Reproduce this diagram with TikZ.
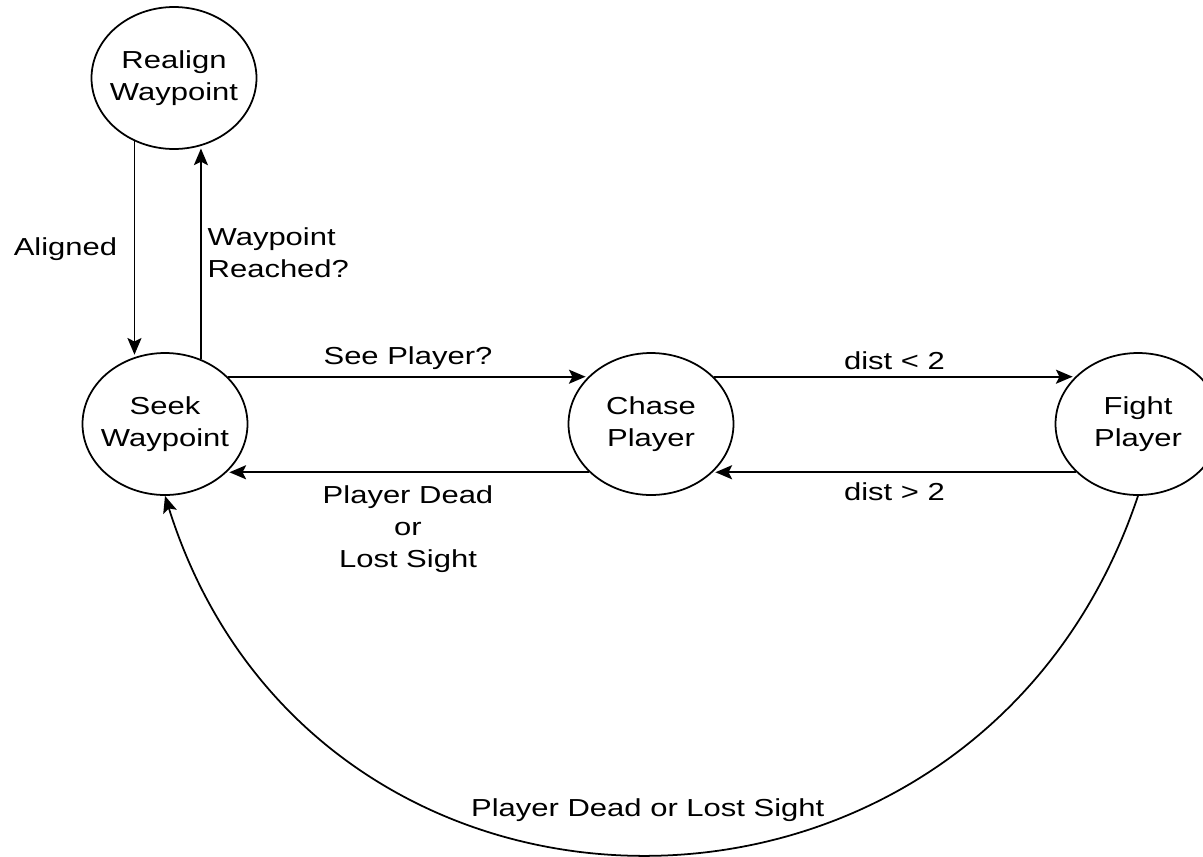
\documentclass[tikz,border=0pt]{standalone}
\usepackage{fontspec}
\setmainfont{Liberation Sans}[FakeStretch=1.26]
\usetikzlibrary{shapes.geometric, arrows.meta}
\begin{document}
\begin{tikzpicture}[x=0.02cm, y=-0.02cm, line width=1pt,
  every node/.style={font=\fontsize{14}{18}\selectfont},
  st/.style={draw, ellipse, align=center, inner xsep=-6pt, inner ysep=0pt, minimum width=3.3cm, minimum height=2.84cm},
  tr/.style={-{Stealth[length=9.5pt, width=8pt, inset=2pt]}, shorten >=1.5pt}]
  \useasboundingbox (0,0) rectangle (1203,856);
  \node[st] (realign) at (174,78) {Realign\\Waypoint};
  \node[st] (seek) at (165,424) {Seek\\Waypoint};
  \node[st] (chase) at (651,424) {Chase\\Player};
  \node[st] (fight) at (1138,424) {Fight\\Player};
  \draw[tr] (realign.238) -- (realign.238 |- seek.115) node[midway, left=6pt] {Aligned};
  \draw[tr] (seek.61) -- (seek.61 |- realign.292) node[midway, right, align=left] {Waypoint\\Reached?};
  \draw[tr] (seek.37) -- (seek.37 -| chase.143) node[midway, above] {See Player?};
  \draw[tr] (chase.218) -- (chase.218 -| seek.-38) node[midway, below=4pt, align=center] {Player Dead\\or\\Lost Sight};
  \draw[tr] (chase.37) -- (chase.37 -| fight.143) node[midway, above] {dist < 2};
  \draw[tr] (fight.218) -- (fight.218 -| chase.-38) node[midway, below=2pt] {dist > 2};
  \draw[tr, shorten >=0pt] (fight.south) .. controls +(-160,478) and +(150,478) .. (seek.south)
    node[midway, above=15pt] {Player Dead or Lost Sight};
\end{tikzpicture}
\end{document}
